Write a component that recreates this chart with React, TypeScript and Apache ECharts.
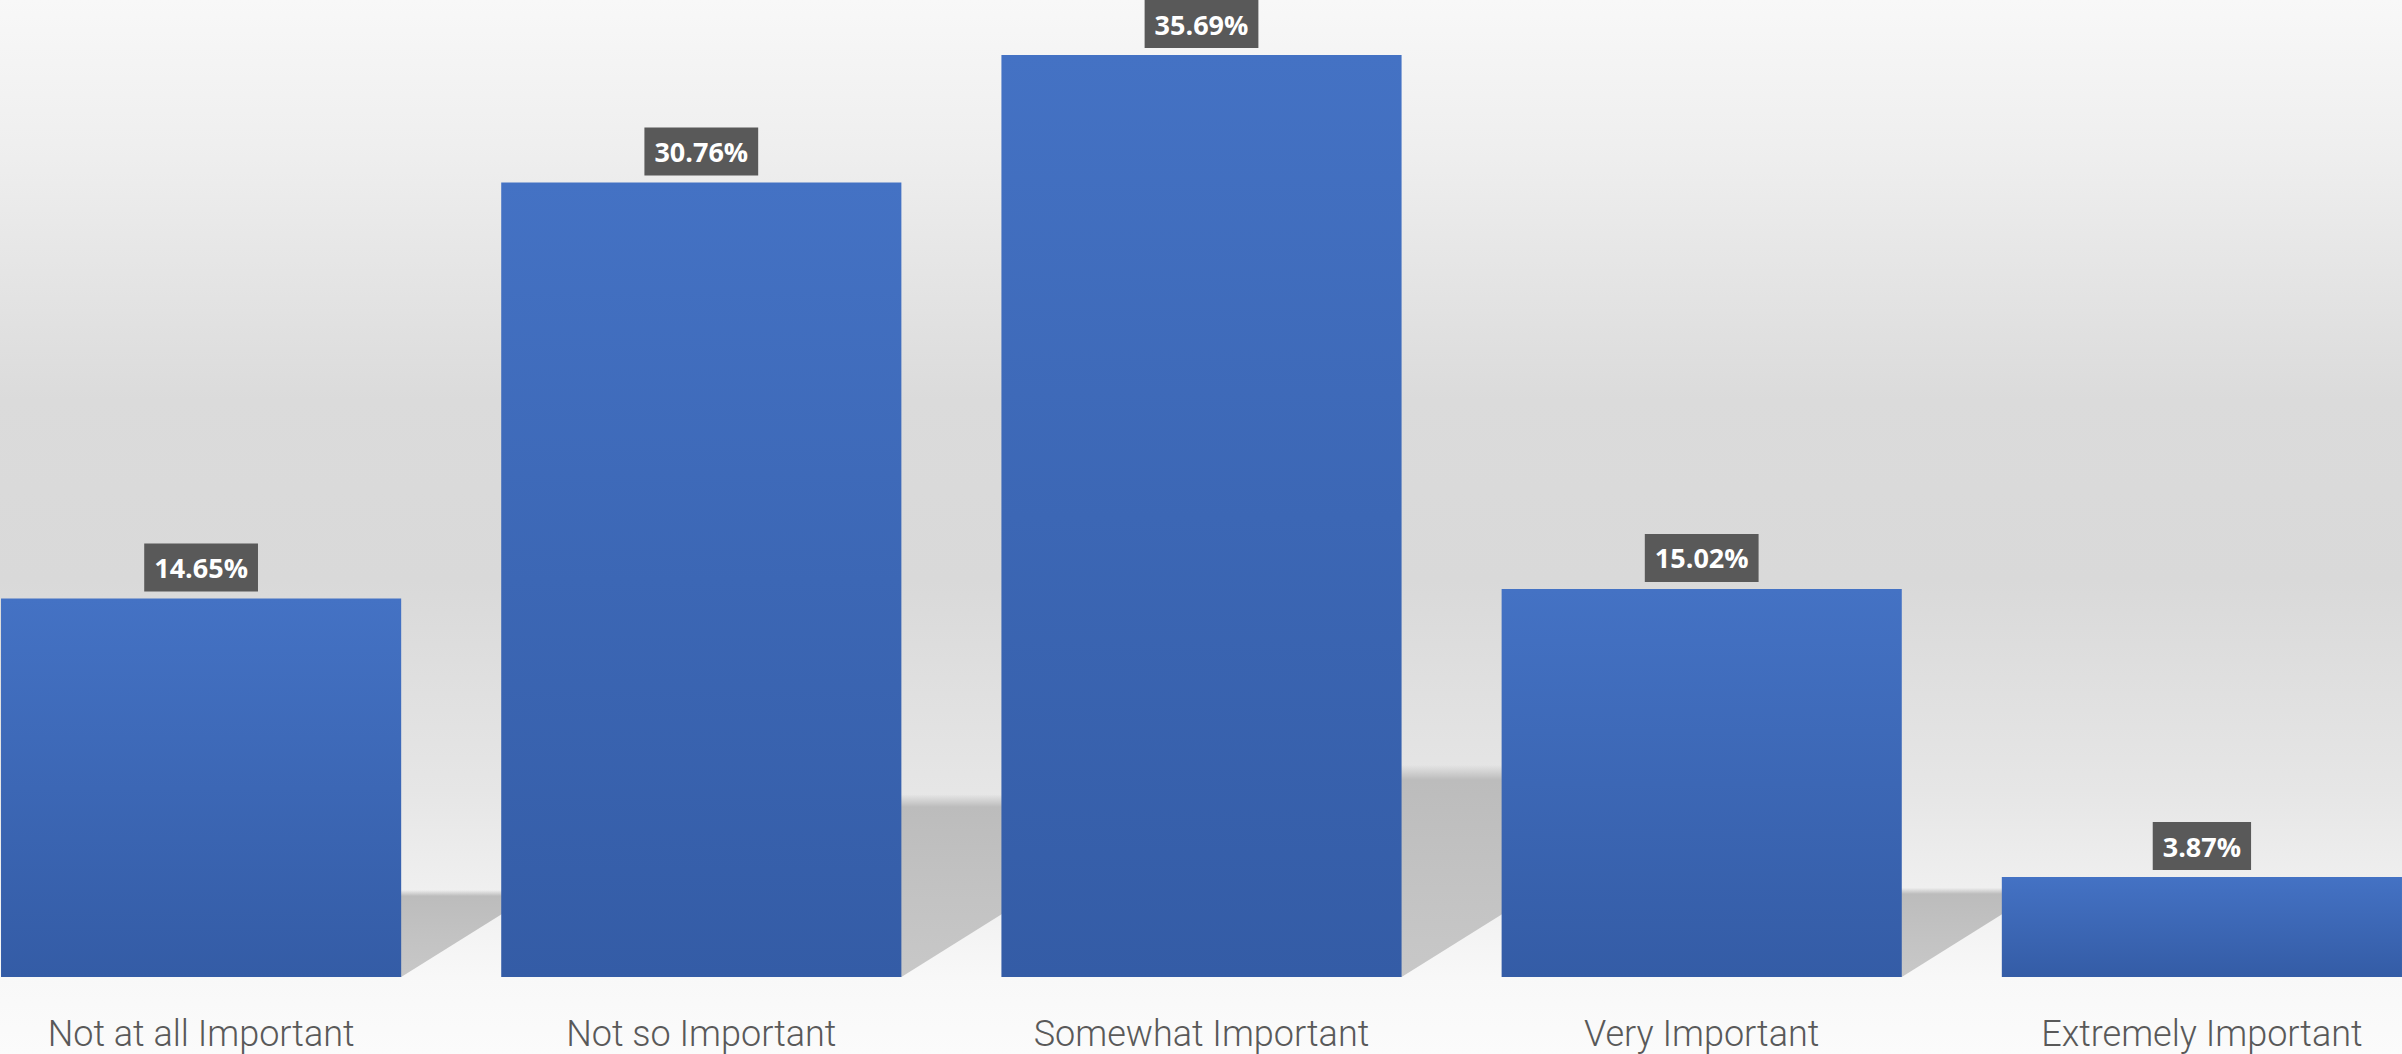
import React, { useEffect, useRef } from "react";
import * as echarts from "echarts";

const categories = [
  "Not at all Important",
  "Not so Important",
  "Somewhat Important",
  "Very Important",
  "Extremely Important",
];
const values = [14.65, 30.76, 35.69, 15.02, 3.87];

export default function App() {
  const ref = useRef<HTMLDivElement>(null);

  useEffect(() => {
    if (!ref.current) return;
    const chart = echarts.init(ref.current, undefined, { renderer: "svg" });

    const bgGradient = new echarts.graphic.LinearGradient(0, 0, 0, 1, [
      { offset: 0, color: "#f8f8f8" },
      { offset: 0.15, color: "#eeeeee" },
      { offset: 0.38, color: "#dbdbdb" },
      { offset: 0.55, color: "#d9d9d9" },
      { offset: 0.75, color: "#e6e6e6" },
      { offset: 0.85, color: "#f0f0f0" },
      { offset: 0.927, color: "#f8f8f8" },
      { offset: 1, color: "#fbfbfb" },
    ]);

    const option: any = {
      animation: false,
      graphic: [
        {
          type: "rect",
          z: -100,
          silent: true,
          shape: { x: 0, y: 0, width: 2402, height: 1054 },
          style: { fill: bgGradient },
        },
      ],
      grid: {
        left: -49,
        right: -50,
        top: 0,
        bottom: 77,
        containLabel: false,
        outerBoundsMode: "none",
      },
      xAxis: {
        type: "category",
        data: categories,
        axisLine: { show: false },
        axisTick: { show: false },
        splitLine: { show: false },
        axisLabel: {
          interval: 0,
          margin: 39,
          fontSize: 36,
          fontFamily: "Roboto",
          fontWeight: 300,
          color: "#595959",
        },
      },
      yAxis: {
        type: "value",
        min: 0,
        max: 37.82,
        show: false,
        splitLine: { show: false },
      },
      series: [
        {
          type: "custom",
          z: 1,
          silent: true,
          data: values.map((v, i) => [i, v]),
          encode: { x: 0, y: 1 },
          renderItem: (params: any, api: any) => {
            const idx = api.value(0);
            const v = api.value(1);
            const base = api.coord([idx, 0]);
            const top = api.coord([idx, v]);
            const w = api.size([1, 0])[0] * 0.8;
            const h = (base[1] - top[1]) * 0.23;
            const dx = h * 1.6;
            const xl = base[0] - w / 2;
            const xr = base[0] + w / 2;
            return {
              type: "polygon",
              shape: {
                points: [
                  [xl, base[1]],
                  [xr, base[1]],
                  [xr + dx, base[1] - h],
                  [xl + dx, base[1] - h],
                ],
              },
              style: {
                fill: new echarts.graphic.LinearGradient(0, 0, 0, 1, [
                  { offset: 0, color: "rgba(188,188,188,0)" },
                  { offset: 0.07, color: "#bcbcbc" },
                  { offset: 0.5, color: "#c2c2c2" },
                  { offset: 1, color: "#c8c8c8" },
                ]),
              },
            };
          },
        },
        {
          type: "bar",
          z: 2,
          data: values,
          barCategoryGap: "20%",
          itemStyle: {
            color: new echarts.graphic.LinearGradient(0, 0, 0, 1, [
              { offset: 0, color: "#4472c4" },
              { offset: 1, color: "#345ca6" },
            ]),
          },
          label: {
            show: true,
            position: "top",
            distance: 7,
            formatter: (p: any) => Number(p.value).toFixed(2) + "%",
            color: "#ffffff",
            backgroundColor: "#595959",
            padding: [9, 10, 9, 10],
            fontFamily: "Open Sans",
            fontWeight: "bold",
            fontSize: 27,
            lineHeight: 30,
          },
        },
      ],
    };

    chart.setOption(option);
    return () => chart.dispose();
  }, []);

  return (
    <div
      ref={ref}
      style={{ position: "absolute", left: 0, top: 0, width: 2402, height: 1054 }}
    />
  );
}
